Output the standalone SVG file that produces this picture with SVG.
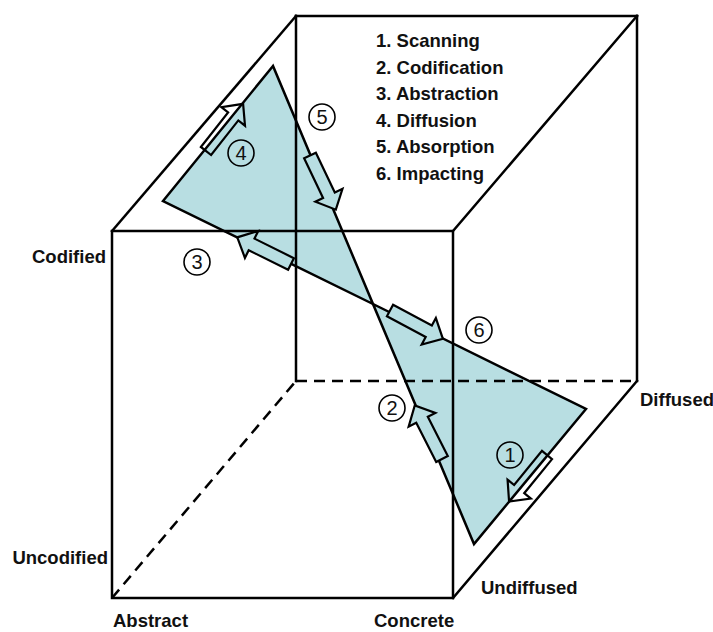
<svg xmlns="http://www.w3.org/2000/svg" width="713" height="632" viewBox="0 0 713 632">
<style>
.edge{stroke:#000;stroke-width:2.5;fill:none;stroke-linecap:square}
.dash{stroke:#000;stroke-width:2.5;fill:none;stroke-dasharray:11 7}
.tri{fill:#b8dee2;stroke:none}
.tris{fill:none;stroke:#000;stroke-width:2.5;stroke-linejoin:miter}
.arr{stroke:#000;stroke-width:2.2;stroke-linejoin:miter}
.lbl{font-family:"Liberation Sans",Arial,sans-serif;font-weight:bold;font-size:18.5px;fill:#111}
.num circle{fill:none;stroke:#000;stroke-width:1.6}
.num text{font-family:"Liberation Sans",Arial,sans-serif;font-size:20px;fill:#111;text-anchor:middle}
</style>
<defs>
<path id="blk" d="M0,-6.5 H44 V-15 L60,0 L44,15 V6.5 H0 Z"/>
</defs>
<rect width="713" height="632" fill="#fff"/>
<g id="bowtie">
<polygon class="tri" points="273,66 163,201 373,304"/>
<polygon class="tri" points="373,304 586,409 474,544"/>
</g>
<g id="cube">
<rect class="edge" x="112" y="231" width="341" height="367"/>
<line class="edge" x1="296" y1="16" x2="637" y2="16"/>
<line class="edge" x1="296" y1="16" x2="296" y2="381"/>
<line class="edge" x1="637" y1="16" x2="637" y2="381"/>
<line class="edge" x1="112" y1="231" x2="296" y2="16"/>
<line class="edge" x1="453" y1="231" x2="637" y2="16"/>
<line class="edge" x1="453" y1="598" x2="637" y2="381"/>
<line class="dash" x1="296" y1="381" x2="637" y2="381"/>
<line class="dash" x1="112" y1="598" x2="296" y2="381"/>
</g>
<g id="bowtie-edges">
<polygon class="tris" points="273,66 163,201 373,304"/>
<polygon class="tris" points="373,304 586,409 474,544"/>
</g>
<g id="connectors">
<use href="#blk" class="arr" fill="none" transform="translate(547,455) rotate(129.2)"/>
<use href="#blk" class="arr" fill="#b8dee2" transform="translate(442,459) rotate(-117)"/>
<use href="#blk" class="arr" fill="#b8dee2" transform="translate(291,264) rotate(-153.6)"/>
<use href="#blk" class="arr" fill="none" transform="translate(206,151) rotate(-51.8)"/>
<use href="#blk" class="arr" fill="#b8dee2" transform="translate(310,155.5) rotate(64.5)"/>
<use href="#blk" class="arr" fill="#b8dee2" transform="translate(390,310.5) rotate(28.2)"/>
</g>
<g id="n1" class="num"><circle cx="510" cy="455" r="13"/><text x="510" y="462">1</text></g>
<g id="n2" class="num"><circle cx="392" cy="408" r="13"/><text x="392" y="415">2</text></g>
<g id="n3" class="num"><circle cx="197" cy="262" r="13"/><text x="197" y="269">3</text></g>
<g id="n4" class="num"><circle cx="241" cy="153" r="13"/><text x="241" y="160">4</text></g>
<g id="n5" class="num"><circle cx="322" cy="117" r="13"/><text x="322" y="124">5</text></g>
<g id="n6" class="num"><circle cx="479" cy="330" r="13"/><text x="479" y="337">6</text></g>
<g id="legend" class="lbl">
<text x="376" y="47">1. Scanning</text>
<text x="376" y="73.5">2. Codification</text>
<text x="376" y="100">3. Abstraction</text>
<text x="376" y="126.5">4. Diffusion</text>
<text x="376" y="153">5. Absorption</text>
<text x="376" y="179.5">6. Impacting</text>
</g>
<g id="axis-labels" class="lbl">
<text x="106" y="263" text-anchor="end">Codified</text>
<text x="108" y="564" text-anchor="end">Uncodified</text>
<text x="113" y="627">Abstract</text>
<text x="374" y="627">Concrete</text>
<text x="481" y="594">Undiffused</text>
<text x="640" y="406">Diffused</text>
</g>
</svg>
